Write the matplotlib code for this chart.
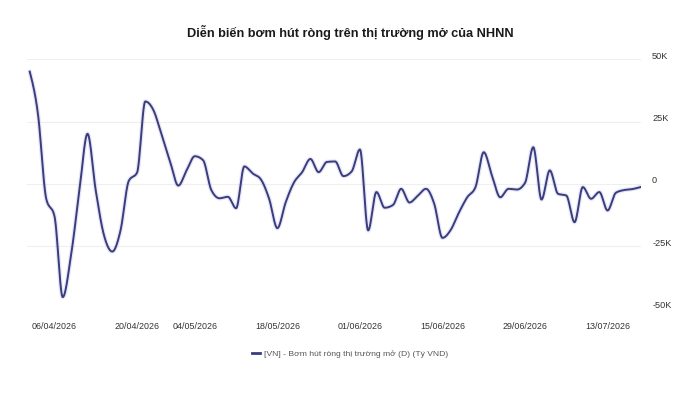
import numpy as np
import pandas as pd
import matplotlib
matplotlib.use("Agg")
import matplotlib.pyplot as plt
import matplotlib.transforms as mtransforms
from matplotlib.lines import Line2D

# ---------------- data ----------------
holidays = ["2026-04-27", "2026-04-30", "2026-05-01"]
dates = [d for d in pd.bdate_range("2026-04-01", "2026-07-17") if d.strftime("%Y-%m-%d") not in holidays]
date_labels = [d.strftime("%d/%m/%Y") for d in dates]

values_k = [
    45.1, 28.0, -6.0, -13.0, -45.5, -28.8, -3.3, 20.1, -2.7, -20.7,
    -27.2, -18.7, 1.2, 4.5, 33.1, 29.5, 19.4, 9.0, -0.7, 5.4,
    11.1, 9.5, -2.5, -5.8, -5.2, -9.8, 7.0, 4.2, 1.8, -6.0,
    -17.8, -7.5, 0.5, 4.7, 10.0, 4.7, 8.8, 9.0, 3.1, 5.0,
    13.8, -18.7, -3.3, -9.6, -8.5, -2.0, -7.5, -4.8, -2.0, -8.0,
    -21.7, -18.5, -11.5, -5.4, -1.3, 12.7, 3.3, -5.4, -2.0, -2.3,
    0.4, 14.7, -6.3, 5.4, -4.0, -4.7, -15.4, -1.3, -6.0, -3.3,
    -10.7, -3.6, -2.5, -2.1, -1.3,
]
values = [v * 1000 for v in values_k]

x_tick_labels = ["06/04/2026", "20/04/2026", "04/05/2026", "18/05/2026",
                 "01/06/2026", "15/06/2026", "29/06/2026", "13/07/2026"]
y_ticks = [50000, 25000, 0, -25000, -50000]
y_tick_labels = ["50K", "25K", "0", "-25K", "-50K"]

title = "Diễn biến bơm hút ròng trên thị trường mở của NHNN"
series_name = "[VN] - Bơm hút ròng thị trường mở (D) (Tỷ VND)"

# ---------------- monotone-x curve (d3 style) ----------------
def monotone_curve(x, y, n=24):
    x = np.asarray(x, float); y = np.asarray(y, float)
    h = np.diff(x); s = np.diff(y) / h
    m = np.zeros_like(y)
    for i in range(1, len(y) - 1):
        s0, s1 = s[i - 1], s[i]
        p = (s0 * h[i] + s1 * h[i - 1]) / (h[i - 1] + h[i])
        m[i] = (np.sign(s0) + np.sign(s1)) * min(abs(s0), abs(s1), 0.5 * abs(p))
    m[0] = (3 * s[0] - m[1]) / 2
    m[-1] = (3 * s[-1] - m[-2]) / 2
    xs, ys = [], []
    for i in range(len(y) - 1):
        t = np.linspace(0, 1, n, endpoint=False)
        h00 = 2*t**3 - 3*t**2 + 1; h10 = t**3 - 2*t**2 + t
        h01 = -2*t**3 + 3*t**2; h11 = t**3 - t**2
        xs.append(x[i] + t * h[i])
        ys.append(h00*y[i] + h10*h[i]*m[i] + h01*y[i+1] + h11*h[i]*m[i+1])
    xs.append([x[-1]]); ys.append([y[-1]])
    return np.concatenate(xs), np.concatenate(ys)

plt.rcParams['font.family'] = ['Liberation Sans', 'DejaVu Sans']

fig = plt.figure(figsize=(7.0, 4.05), dpi=100)
ax = fig.add_axes([27/700, 1 - 308.3/405, (641 - 27)/700, (308.3 - 59.4)/405])

idx = np.arange(len(values))
cx, cy = monotone_curve(idx, values)
line_color = "#3a3c7c"
ax.plot(cx, cy, color="#aeb2e6", lw=3.2, alpha=0.3, solid_capstyle="round", zorder=2)
ax.plot(cx, cy, color=line_color, lw=1.4, zorder=3)

ax.set_xlim(-0.33, 74.05)
ax.set_ylim(-50000, 50000)

for v in y_ticks:
    ax.axhline(v, color="#efefef", lw=0.8, zorder=1)

for sp in ax.spines.values():
    sp.set_visible(False)

tick_pos = [date_labels.index(l) for l in x_tick_labels]
ax.set_xticks(tick_pos)
ax.set_xticklabels(x_tick_labels, fontsize=6.4, color="#333333")
ax.tick_params(axis="x", length=0, pad=10)

ax.yaxis.tick_right()
ax.set_yticks(y_ticks)
ax.set_yticklabels(y_tick_labels, fontsize=6.6, color="#333333")
ax.tick_params(axis="y", length=0, pad=8)
off = mtransforms.ScaledTranslation(0, 4/100, fig.dpi_scale_trans)
for lab in ax.get_yticklabels():
    lab.set_horizontalalignment("left")
    lab.set_transform(lab.get_transform() + off)

fig.text(0.5, 1 - 33/405, title, ha="center", va="center", fontsize=9.2,
         fontweight="bold", color="#1a1a1a")

handle = Line2D([0], [0], color=line_color, lw=2)
fig.legend([handle], [series_name], loc="center", bbox_to_anchor=(0.5, 1 - 354/405),
           frameon=False, fontsize=6.1, handlelength=0.9, handletextpad=0.5,
           labelcolor="#555555")

fig.savefig("out.png", dpi=100)
